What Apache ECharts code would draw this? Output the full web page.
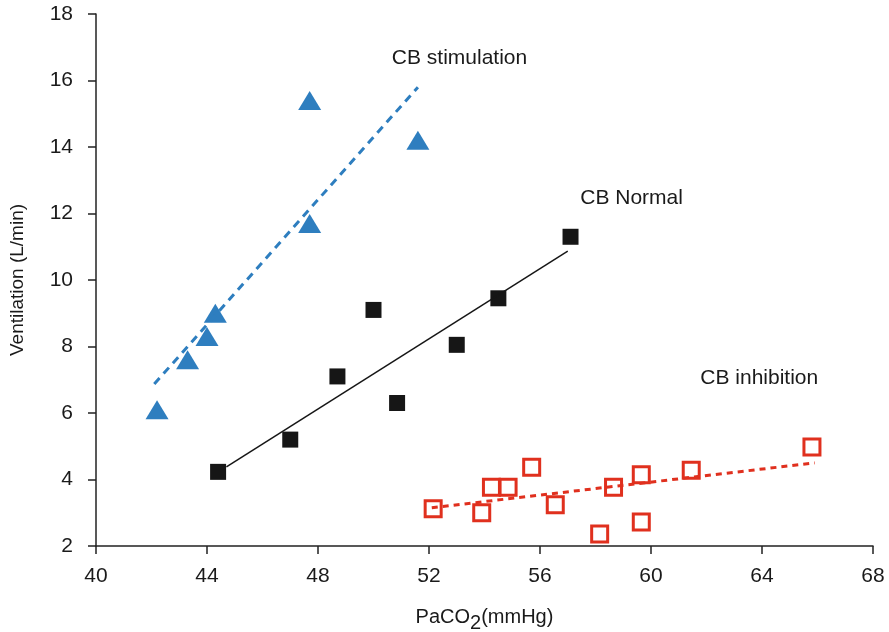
<!DOCTYPE html>
<html>
<head>
<meta charset="utf-8">
<script src="https://cdn.jsdelivr.net/npm/echarts@6/dist/echarts.min.js"></script>
<style>
  html, body { margin: 0; padding: 0; background: #fff; }
  #chart { width: 889px; height: 632px; }
</style>
</head>
<body>
<div id="chart"></div>
<script>
// PaCO2 (mmHg) vs ventilation (L/min) under three carotid body conditions
const stimulationPoints = [[42.2, 6.1], [43.3, 7.6], [44.0, 8.3], [44.3, 9.0], [47.7, 11.7], [47.7, 15.4], [51.6, 14.2]];
const normalPoints = [[44.4, 4.23], [47.0, 5.2], [48.7, 7.1], [50.0, 9.1], [50.85, 6.3], [53.0, 8.05], [54.5, 9.45], [57.1, 11.3]];
const inhibitionPoints = [[52.15, 3.12], [53.9, 3.0], [54.25, 3.77], [54.85, 3.77], [55.7, 4.37], [56.55, 3.24], [58.15, 2.36], [58.65, 3.77], [59.65, 4.14], [59.65, 2.72], [61.45, 4.28], [65.8, 4.98]];

// Linear fit end points for each group
const stimulationFit = [[42.1, 6.87], [51.6, 15.8]];
const normalFit = [[44.7, 4.38], [57.0, 10.87]];
const inhibitionFit = [[52.1, 3.15], [65.9, 4.5]];

// Group labels placed in data coordinates
const groupLabels = [[53.1, 16.68, 'CB stimulation'], [59.3, 12.47, 'CB Normal'], [63.9, 7.05, 'CB inhibition']];

const xTicks = [40, 68, 4];
const yTicks = [2, 18, 2];

const BLUE = '#2e7ebf';
const RED = '#e0301e';
const BLACK = '#161616';
const TEXT = '#1a1a1a';
const FONT = '"Liberation Sans", Arial, Helvetica, sans-serif';

const chart = echarts.init(document.getElementById('chart'));

const axisCommon = {
  axisLine: { show: true, onZero: false, lineStyle: { color: '#222', width: 1.5 } },
  axisTick: { show: true, length: 8, lineStyle: { color: '#222', width: 1.5 } },
  splitLine: { show: false },
  axisLabel: { color: TEXT, fontSize: 21, fontFamily: FONT }
};

chart.setOption({
  animation: false,
  backgroundColor: '#fff',
  grid: { left: 96, right: 16, top: 14, bottom: 86, containLabel: false, outerBoundsMode: 'none' },
  xAxis: Object.assign({}, axisCommon, {
    type: 'value',
    min: xTicks[0], max: xTicks[1], interval: xTicks[2],
    axisLabel: Object.assign({}, axisCommon.axisLabel, { margin: 20 }),
    name: '{a|PaCO}{b|2}{a|(mmHg)}',
    nameLocation: 'middle',
    nameGap: 56,
    nameTextStyle: {
      rich: {
        a: { fontSize: 20, fontFamily: FONT, color: TEXT },
        b: { fontSize: 20, fontFamily: FONT, color: TEXT, padding: [11, 0, 0, 0] }
      }
    }
  }),
  yAxis: Object.assign({}, axisCommon, {
    type: 'value',
    min: yTicks[0], max: yTicks[1], interval: yTicks[2],
    axisLabel: Object.assign({}, axisCommon.axisLabel, { margin: 23 }),
    name: 'Ventilation (L/min)',
    nameLocation: 'middle',
    nameGap: 69,
    nameTextStyle: { color: TEXT, fontSize: 19, fontFamily: FONT }
  }),
  series: [
    {
      type: 'line', data: stimulationFit, symbol: 'none', silent: true,
      lineStyle: { color: BLUE, width: 3, type: [8, 6] }
    },
    {
      type: 'line', data: normalFit, symbol: 'none', silent: true,
      lineStyle: { color: BLACK, width: 1.5 }
    },
    {
      type: 'line', data: inhibitionFit, symbol: 'none', silent: true,
      lineStyle: { color: RED, width: 3, type: [6, 5] }
    },
    {
      type: 'scatter', data: stimulationPoints, symbol: 'triangle', symbolSize: [23, 19],
      itemStyle: { color: BLUE, opacity: 1 }
    },
    {
      type: 'scatter', data: normalPoints, symbol: 'rect', symbolSize: 16,
      itemStyle: { color: BLACK, opacity: 1 }
    },
    {
      type: 'scatter', data: inhibitionPoints, symbol: 'rect', symbolSize: 16,
      itemStyle: { color: 'rgba(255,255,255,0)', borderColor: RED, borderWidth: 3, opacity: 1 }
    }
  ]
});

// Group labels, positioned through the chart's own coordinate conversion
chart.setOption({
  graphic: groupLabels.map(([x, y, text]) => {
    const [px, py] = chart.convertToPixel({ gridIndex: 0 }, [x, y]);
    return {
      type: 'text', x: px, y: py, silent: true,
      style: {
        text: text, fill: TEXT, font: '21px ' + FONT,
        textAlign: 'center', textVerticalAlign: 'middle'
      }
    };
  })
});
</script>
</body>
</html>
